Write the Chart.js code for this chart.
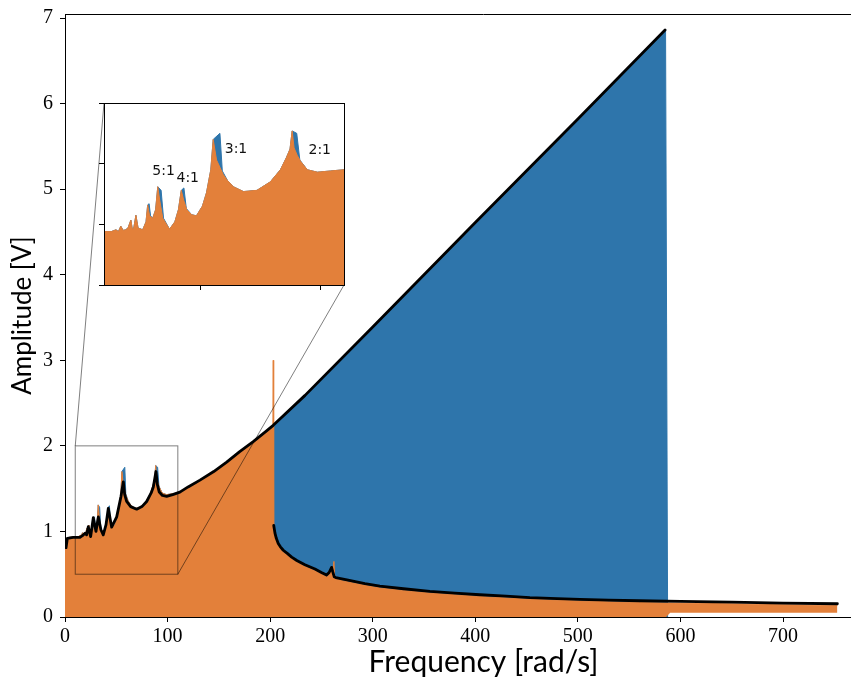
<!DOCTYPE html>
<html>
<head>
<meta charset="utf-8">
<script src="https://cdn.jsdelivr.net/npm/chart.js@4.4.1/dist/chart.umd.min.js"></script>
<style>
  html, body { margin: 0; padding: 0; background: #fff; overflow: hidden; }
  #wrap { position: relative; width: 851px; height: 680px; overflow: hidden; }
  #main { position: absolute; left: 0; top: 0; }
  #inset { position: absolute; left: 94px; top: 93px; }
</style>
</head>
<body>
<div id="wrap">
  <canvas id="main" width="902" height="680"></canvas>
  <canvas id="inset" width="260" height="202"></canvas>
</div>
<script>
// ---- Backbone curve, upper (resonant) branch [rad/s, V]
const upperFreq = [1, 2.3, 8, 14.6, 17, 19.5, 21, 22.7, 25, 27.6, 30.2, 32.5, 35, 37.3, 40, 42.2, 45.5, 50.4, 54.6, 56.9,
  58.2, 60.1, 64, 69.9, 75, 79.6, 84, 86.1, 88.7, 90, 91.9, 95, 99.1, 105, 112, 120, 131.6, 145, 157.6, 170,
  183.5, 195, 203, 234, 300, 400, 500, 585];
const upperAmp = [0.81, 0.92, 0.93, 0.93, 0.95, 0.98, 0.96, 1.055, 0.94, 1.16, 1.0, 1.17, 1.02, 0.96, 1.08, 1.27, 1.05, 1.17, 1.41, 1.58,
  1.43, 1.35, 1.29, 1.26, 1.29, 1.35, 1.45, 1.52, 1.70, 1.55, 1.46, 1.42, 1.41, 1.43, 1.46, 1.52, 1.60, 1.70, 1.81, 1.93,
  2.05, 2.16, 2.24, 2.59, 3.39, 4.61, 5.82, 6.86];

// ---- Backbone curve, lower (non-resonant) branch
const lowerFreq = [203.5, 204.7, 206, 207.9, 210, 212.8, 217, 221, 226, 233.9, 243.7, 250, 255, 257.5, 259.9, 261, 262.5, 264, 270, 276,
  292.4, 307, 330, 355.8, 380, 404.5, 430, 453.2, 480, 502, 530, 560, 600, 650, 700, 753];
const lowerAmp = [1.07, 0.98, 0.92, 0.86, 0.82, 0.78, 0.74, 0.70, 0.66, 0.61, 0.56, 0.52, 0.49, 0.52, 0.58, 0.53, 0.47, 0.46, 0.445, 0.43,
  0.39, 0.36, 0.33, 0.30, 0.28, 0.26, 0.243, 0.226, 0.215, 0.207, 0.198, 0.19, 0.183, 0.175, 0.163, 0.155];

// ---- Measured envelope, upward frequency sweep
const upFreq = [0, 1, 2, 4, 10, 13, 15, 16, 17, 18, 19, 20, 21.2, 21.8, 22.4, 23.3, 24.2, 26.1, 27.5, 28.2,
  28.8, 29.4, 30.3, 31.5, 32.4, 33.8, 34.8, 37.3, 39.5, 41, 42.2, 43.3, 44.3, 46.5, 48.5, 51, 52.7, 54.5, 55.5, 58.3,
  59.3, 61.5, 63.9, 68.1, 73.7, 79.3, 83.5, 86, 87.5, 88.4, 90.3, 91.6, 94.7, 98.9, 104.5, 110, 120, 131.6, 145, 157.6,
  170, 183.5, 195, 203.6, 204.3, 234, 300, 400, 500, 585.5, 587.5];
const upAmp = [0.80, 0.82, 0.91, 0.93, 0.94, 0.94, 0.955, 0.94, 0.985, 0.95, 0.955, 0.97, 1.035, 0.96, 0.97, 1.075, 0.97, 0.955, 1.02, 1.16,
  1.17, 1.07, 1.05, 1.12, 1.31, 1.28, 1.05, 0.96, 1.02, 1.12, 1.28, 1.30, 1.13, 1.08, 1.07, 1.15, 1.26, 1.45, 1.70, 1.75,
  1.44, 1.36, 1.31, 1.27, 1.28, 1.35, 1.45, 1.55, 1.62, 1.77, 1.75, 1.53, 1.45, 1.43, 1.44, 1.45, 1.51, 1.59, 1.69, 1.80,
  1.92, 2.04, 2.15, 2.23, 2.25, 2.59, 3.39, 4.61, 5.82, 6.87, 0];

// ---- Measured envelope, downward frequency sweep
const downFreq = [0, 1, 2, 4, 10, 13, 15, 16, 17, 18, 19, 20, 21.2, 21.8, 22.4, 23.3, 24.2, 26.1, 27.5, 28.2,
  29, 30.3, 31.5, 32.4, 33.2, 34.5, 37.3, 39.5, 41, 42.2, 43.2, 44.5, 46.5, 48.5, 51, 52.7, 54.5, 55.5, 56.9, 58.3,
  59.7, 61.5, 63.9, 68.1, 73.7, 79.3, 83.5, 86, 87.5, 88.4, 89.2, 90.5, 91.9, 94.7, 98.9, 104.5, 110, 120, 131.6, 145,
  157.6, 170, 183.5, 195, 202.7, 203.0, 203.3, 203.6, 204.7, 206, 207.9, 210, 212.8, 217, 221, 226, 233.9, 243.7, 250, 255,
  257.5, 259.9, 261.2, 262.2, 262.8, 263.5, 270, 276, 292.4, 307, 330, 355.8, 380, 404.5, 430, 453.2, 480, 502, 530, 560,
  588, 620, 660, 700, 753];
const downAmp = [0.80, 0.82, 0.91, 0.93, 0.94, 0.94, 0.955, 0.94, 0.985, 0.95, 0.955, 0.97, 1.035, 0.96, 0.97, 1.075, 0.97, 0.955, 1.02, 1.16,
  1.07, 1.05, 1.12, 1.31, 1.20, 1.05, 0.96, 1.02, 1.12, 1.28, 1.20, 1.12, 1.08, 1.07, 1.15, 1.26, 1.45, 1.70, 1.53, 1.47,
  1.41, 1.36, 1.31, 1.27, 1.28, 1.35, 1.45, 1.55, 1.62, 1.77, 1.63, 1.57, 1.52, 1.45, 1.43, 1.44, 1.45, 1.51, 1.59, 1.69,
  1.80, 1.92, 2.04, 2.15, 2.22, 3.00, 2.23, 1.05, 0.96, 0.90, 0.84, 0.80, 0.76, 0.72, 0.68, 0.64, 0.59, 0.54, 0.50, 0.47,
  0.49, 0.55, 0.55, 0.65, 0.50, 0.45, 0.425, 0.41, 0.37, 0.34, 0.31, 0.28, 0.26, 0.24, 0.223, 0.206, 0.195, 0.187, 0.178, 0.17,
  0.163, 0.16, 0.152, 0.143, 0.135];
// lower edge of the downward-sweep envelope
const floorFreq = [0, 586, 590, 753];
const floorAmp = [0, 0, 0.05, 0.05];

// ---- Axes
const freqMin = 0, freqMax = 816, freqStep = 100;
const ampMin = 0, ampMax = 7.047, ampStep = 1;

// ---- Zoomed window and its annotations
const zoomFreq = [10, 110];
const zoomAmp = [0.5, 2.0];
const zoomFreqTicks = [50, 100];
const zoomAmpTicks = [0.5, 1.0, 1.5, 2.0];
const ratioLabels = ['5:1', '4:1', '3:1', '2:1'];
const ratioFreq = [34.8, 44.9, 65.0, 99.9];
const ratioAmp = [1.44, 1.375, 1.62, 1.61];

const BLUE = '#2e75ab';
const ORANGE = '#e3803a';
const SANS = 'Lato, "DejaVu Sans", sans-serif';
const SERIF = '"Liberation Serif", "DejaVu Serif", serif';

function pts(fx, fy) { return fx.map((f, i) => ({ x: f, y: fy[i] })); }

function envelopeSets(floorIndex) {
  return [
    { data: pts(downFreq, downAmp), borderColor: ORANGE, backgroundColor: ORANGE, borderWidth: 1, fill: floorIndex, order: 1 },
    { data: pts(floorFreq, floorAmp), borderColor: 'rgba(0,0,0,0)', borderWidth: 0, fill: false, order: 1 },
    { data: pts(upFreq, upAmp), borderColor: BLUE, backgroundColor: BLUE, borderWidth: 1, fill: 'origin', order: 2 }
  ];
}

// ---- Inset: close-up of the sub-harmonic resonances
const ratioText = {
  id: 'ratioText',
  afterDatasetsDraw(chart) {
    const { ctx, chartArea: a, scales: { x, y } } = chart;
    ctx.save();
    ctx.font = '14px "DejaVu Sans", sans-serif';
    ctx.fillStyle = '#111';
    ctx.textAlign = 'center';
    ctx.textBaseline = 'middle';
    ratioLabels.forEach((t, i) => ctx.fillText(t, x.getPixelForValue(ratioFreq[i]), y.getPixelForValue(ratioAmp[i])));
    ctx.strokeStyle = '#000';
    ctx.lineWidth = 1;
    ctx.strokeRect(Math.round(a.left) + 0.5, Math.round(a.top) + 0.5, Math.round(a.right - a.left), Math.round(a.bottom - a.top));
    ctx.restore();
  }
};

const inset = new Chart(document.getElementById('inset'), {
  type: 'line',
  data: { datasets: envelopeSets(1) },
  options: {
    responsive: false, animation: false, events: [],
    layout: { padding: { top: 10, right: 10, left: 0, bottom: 0 } },
    elements: { point: { radius: 0 }, line: { tension: 0 } },
    plugins: { legend: { display: false }, tooltip: { enabled: false } },
    scales: {
      x: {
        type: 'linear', min: zoomFreq[0], max: zoomFreq[1],
        afterFit: s => { s.height = 10; s.paddingLeft = 0; s.paddingRight = 0; },
        afterBuildTicks: s => { s.ticks = zoomFreqTicks.map(v => ({ value: v })); },
        ticks: { display: false },
        grid: { drawOnChartArea: false, drawTicks: true, tickLength: 5, color: '#000' },
        border: { color: '#000', width: 1 }
      },
      y: {
        type: 'linear', min: zoomAmp[0], max: zoomAmp[1],
        afterFit: s => { s.width = 10; s.paddingTop = 0; s.paddingBottom = 0; },
        afterBuildTicks: s => { s.ticks = zoomAmpTicks.map(v => ({ value: v })); },
        ticks: { display: false },
        grid: { drawOnChartArea: false, drawTicks: true, tickLength: 5, color: '#000' },
        border: { color: '#000', width: 1 }
      }
    }
  },
  plugins: [ratioText]
});

// ---- Main plot
const insetBox = document.getElementById('inset');
const frameAndIndicator = {
  id: 'frameAndIndicator',
  afterDatasetsDraw(chart) {
    const { ctx, chartArea: a, scales: { x, y } } = chart;
    ctx.save();
    // top spine
    ctx.strokeStyle = '#000';
    ctx.lineWidth = 1;
    ctx.beginPath();
    ctx.moveTo(a.left, Math.round(a.top) + 0.5);
    ctx.lineTo(a.right, Math.round(a.top) + 0.5);
    ctx.stroke();
    // zoom window and connectors to the inset
    const x0 = x.getPixelForValue(zoomFreq[0]), x1 = x.getPixelForValue(zoomFreq[1]);
    const y0 = y.getPixelForValue(zoomAmp[0]), y1 = y.getPixelForValue(zoomAmp[1]);
    const ia = inset.chartArea;
    const ox = insetBox.offsetLeft, oy = insetBox.offsetTop;
    ctx.strokeStyle = 'rgba(0,0,0,0.5)';
    ctx.lineWidth = 1;
    ctx.strokeRect(x0, y1, x1 - x0, y0 - y1);
    ctx.beginPath();
    ctx.moveTo(x0, y1);
    ctx.lineTo(ox + ia.left, oy + ia.top);
    ctx.moveTo(x1, y0);
    ctx.lineTo(ox + ia.right, oy + ia.bottom);
    ctx.stroke();
    ctx.restore();
  }
};

const blackLine = { borderColor: '#000', borderWidth: 2.8, fill: false, order: 0, borderJoinStyle: 'round', borderCapStyle: 'round' };

new Chart(document.getElementById('main'), {
  type: 'line',
  data: {
    datasets: [
      Object.assign({ data: pts(upperFreq, upperAmp) }, blackLine),
      Object.assign({ data: pts(lowerFreq, lowerAmp) }, blackLine)
    ].concat(envelopeSets(3))
  },
  options: {
    responsive: false, animation: false, events: [],
    layout: { padding: { top: 14, right: 0, left: 0, bottom: 0 } },
    elements: { point: { radius: 0 }, line: { tension: 0 } },
    plugins: { legend: { display: false }, tooltip: { enabled: false } },
    scales: {
      x: {
        type: 'linear', min: freqMin, max: freqMax,
        afterFit: s => { s.height = 63; s.paddingRight = 0; },
        ticks: { stepSize: freqStep, includeBounds: false, color: '#000', padding: 3, maxRotation: 0,
                 font: { family: SERIF, size: 20 } },
        grid: { drawOnChartArea: false, drawTicks: true, tickLength: 5, color: '#000' },
        border: { color: '#000', width: 1 },
        title: { display: true, text: 'Frequency [rad/s]', color: '#000', padding: { top: 0, bottom: 0 },
                 font: { family: SANS, size: 30 } }
      },
      y: {
        type: 'linear', min: ampMin, max: ampMax,
        afterFit: s => { s.width = 65; s.paddingTop = 0; s.paddingBottom = 0; },
        ticks: { stepSize: ampStep, includeBounds: false, color: '#000', padding: 7,
                 font: { family: SERIF, size: 20 } },
        grid: { drawOnChartArea: false, drawTicks: true, tickLength: 5, color: '#000' },
        border: { color: '#000', width: 1 },
        title: { display: true, text: 'Amplitude [V]', color: '#000', padding: { top: 7, bottom: 0 },
                 font: { family: SANS, size: 26 } }
      }
    }
  },
  plugins: [frameAndIndicator]
});
</script>
</body>
</html>
